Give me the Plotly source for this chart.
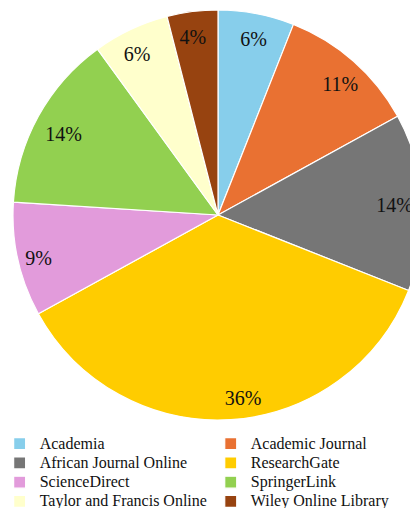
import plotly.graph_objects as go

categories = ["Academia", "Academic Journal", "African Journal Online", "ResearchGate",
              "ScienceDirect", "SpringerLink", "Taylor and Francis Online", "Wiley Online Library"]
shares = [6, 11, 14, 36, 9, 14, 6, 4]
colors = ["#87CEEB", "#E97132", "#767676", "#FFCC00", "#E29BDB", "#92D050", "#FFFFCC", "#974310"]

W, H = 418, 508
FONT = "Liberation Serif, Times New Roman, serif"
PLOT_H = 415  # plot area height (legend sits below it)

# pie geometry in figure pixels (from top-left of the figure)
cx, cy, R = 210.0, 207.0, 205.0

# styling: ring radius (px) and small angular nudge (deg) used to place each
# percentage label (drawn by a transparent companion pie with outside text)
label_ring = {
    "Academia": (166, -5),
    "Academic Journal": (159, -3),
    "African Journal Online": (153, 0),
    "ResearchGate": (172, 3.2),
    "ScienceDirect": (166, -2),
    "SpringerLink": (152, 2),
    "Taylor and Francis Online": (164, 3),
    "Wiley Online Library": (167, 5),
}

def dom(r):
    return dict(x=[(cx - r) / W, (cx + r) / W],
                y=[(PLOT_H - cy - r) / PLOT_H, (PLOT_H - cy + r) / PLOT_H])

# legend labels rendered at 16px while rows are spaced like a 12.5px font
legend_labels = ['<span style="font-size:16px">%s</span>' % c for c in categories]

fig = go.Figure()
fig.add_trace(go.Pie(
    labels=legend_labels, values=shares, sort=False, direction="clockwise", rotation=0,
    marker=dict(colors=colors, line=dict(color="white", width=1.2)),
    textinfo="none", domain=dom(R), showlegend=True, hoverinfo="percent",
))
for cat in categories:
    r_lab, rot = label_ring[cat]
    fig.add_trace(go.Pie(
        labels=categories, values=shares, sort=False, direction="clockwise", rotation=rot,
        marker=dict(colors=["rgba(0,0,0,0)"] * len(shares), line=dict(width=0)),
        texttemplate="%{percent:.0%}",
        textposition=["outside" if c == cat else "none" for c in categories],
        outsidetextfont=dict(family=FONT, size=20, color="#111111"),
        domain=dom(r_lab), showlegend=False, hoverinfo="skip",
    ))

fig.update_layout(
    width=W, height=H,
    margin=dict(l=0, r=0, t=0, b=H - PLOT_H, autoexpand=False),
    paper_bgcolor="white",
    font=dict(family=FONT, color="#111111"),
    legend=dict(
        orientation="h", x=-0.02, xanchor="left", y=-(421 - PLOT_H) / PLOT_H, yanchor="top",
        font=dict(family=FONT, size=12.5, color="#111111"),
        entrywidth=0.505, entrywidthmode="fraction", itemclick=False,
    ),
)

fig.write_html("out.html")
